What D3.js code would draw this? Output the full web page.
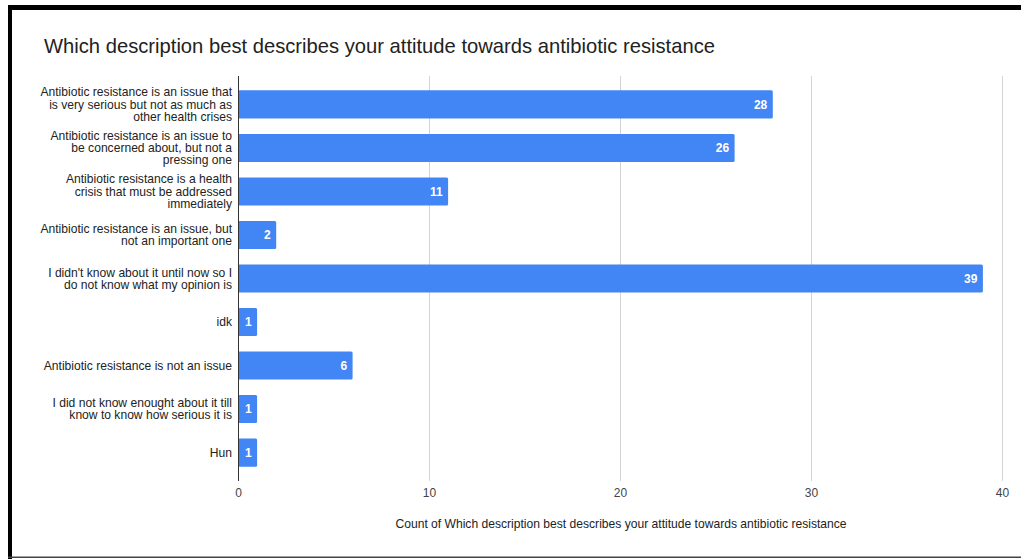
<!DOCTYPE html>
<html>
<head>
<meta charset="utf-8">
<script src="https://cdn.jsdelivr.net/npm/d3@7"></script>
<style>
  html, body { margin: 0; padding: 0; background: #fff; }
  svg { display: block; font-family: "Liberation Sans", Arial, sans-serif; }
</style>
</head>
<body>
<svg id="chart" width="1021" height="559"></svg>
<script>
// Survey answers, wrapped the way they appear beside each bar
const categories = [
  "Antibiotic resistance is an issue that\nis very serious but not as much as\nother health crises",
  "Antibiotic resistance is an issue to\nbe concerned about, but not a\npressing one",
  "Antibiotic resistance is a health\ncrisis that must be addressed\nimmediately",
  "Antibiotic resistance is an issue, but\nnot an important one",
  "I didn't know about it until now so I\ndo not know what my opinion is",
  "idk",
  "Antibiotic resistance is not an issue",
  "I did not know enought about it till\nknow to know how serious it is",
  "Hun"
];
const counts = [28, 26, 11, 2, 39, 1, 6, 1, 1];
const xTicks = [0, 10, 20, 30, 40];

const chartTitle = "Which description best describes your attitude towards antibiotic resistance";
const axisTitle = "Count of Which description best describes your attitude towards antibiotic resistance";

const data = categories.map((c, i) => ({ label: c, value: counts[i] }));

const svg = d3.select("#chart");
const W = 1021, H = 559;

// frame around the chart
svg.append("rect").attr("x", 8).attr("y", 5).attr("width", W - 8).attr("height", 5).attr("fill", "#000");
svg.append("rect").attr("x", 8).attr("y", 5).attr("width", 4).attr("height", H - 5).attr("fill", "#000");
svg.append("rect").attr("x", 8).attr("y", 556.5).attr("width", W - 8).attr("height", 1.5).attr("fill", "#444");

const plot = { left: 238, right: 1002, top: 76, bottom: 481 };

const x = d3.scaleLinear().domain([0, 40]).range([plot.left, plot.right]);
const y = d3.scaleBand()
  .domain(d3.range(data.length))
  .range([plot.top, plot.bottom])
  .paddingInner(0.356)
  .paddingOuter(0.33);

// title
svg.append("text")
  .attr("x", 44).attr("y", 53)
  .attr("font-size", 20.2)
  .attr("fill", "#222")
  .text(chartTitle);

// vertical gridlines
svg.append("g")
  .selectAll("line")
  .data(xTicks.filter(t => t !== 0))
  .join("line")
  .attr("x1", d => x(d) + 0.5).attr("x2", d => x(d) + 0.5)
  .attr("y1", plot.top).attr("y2", plot.bottom)
  .attr("stroke", "#d4d4d4").attr("stroke-width", 1);

// x axis tick labels
const xAxis = d3.axisBottom(x).tickValues(xTicks).tickSize(0).tickPadding(7).tickFormat(d3.format("d"));
const gx = svg.append("g").attr("transform", `translate(0,${plot.bottom})`).call(xAxis);
gx.select(".domain").remove();
gx.selectAll("text")
  .attr("font-family", "Liberation Sans, Arial, sans-serif")
  .attr("font-size", 12)
  .attr("fill", "#444");

// bars
svg.append("g")
  .selectAll("rect")
  .data(data)
  .join("rect")
  .attr("x", x(0))
  .attr("y", (d, i) => y(i))
  .attr("width", d => x(d.value) - x(0))
  .attr("height", y.bandwidth())
  .attr("rx", 1.5)
  .attr("fill", "#4285f4");

// value labels inside the bar ends
svg.append("g")
  .selectAll("text")
  .data(data)
  .join("text")
  .attr("x", d => x(d.value) - 5.5)
  .attr("y", (d, i) => y(i) + y.bandwidth() / 2)
  .attr("dy", "0.35em")
  .attr("text-anchor", "end")
  .attr("font-size", 12)
  .attr("font-weight", "bold")
  .attr("fill", "#fff")
  .text(d => d.value);

// category labels, multi-line, centred on each bar
const lineH = 12.2;
const labels = svg.append("g")
  .selectAll("text")
  .data(data)
  .join("text")
  .attr("text-anchor", "end")
  .attr("font-size", 12.1)
  .attr("fill", "#222");
labels.each(function (d, i) {
  const lines = d.label.split("\n");
  const cy = y(i) + y.bandwidth() / 2;
  const startY = cy - (lines.length - 1) * lineH / 2;
  d3.select(this).selectAll("tspan")
    .data(lines)
    .join("tspan")
    .attr("x", 232)
    .attr("y", (l, k) => startY + k * lineH)
    .attr("dy", "0.35em")
    .text(l => l);
});

// category axis line
svg.append("line")
  .attr("x1", plot.left + 0.5).attr("x2", plot.left + 0.5)
  .attr("y1", plot.top).attr("y2", plot.bottom)
  .attr("stroke", "#333").attr("stroke-width", 1);

// axis title
svg.append("text")
  .attr("x", 621).attr("y", 524)
  .attr("dy", "0.35em")
  .attr("text-anchor", "middle")
  .attr("font-size", 12.1)
  .attr("fill", "#222")
  .text(axisTitle);
</script>
</body>
</html>
